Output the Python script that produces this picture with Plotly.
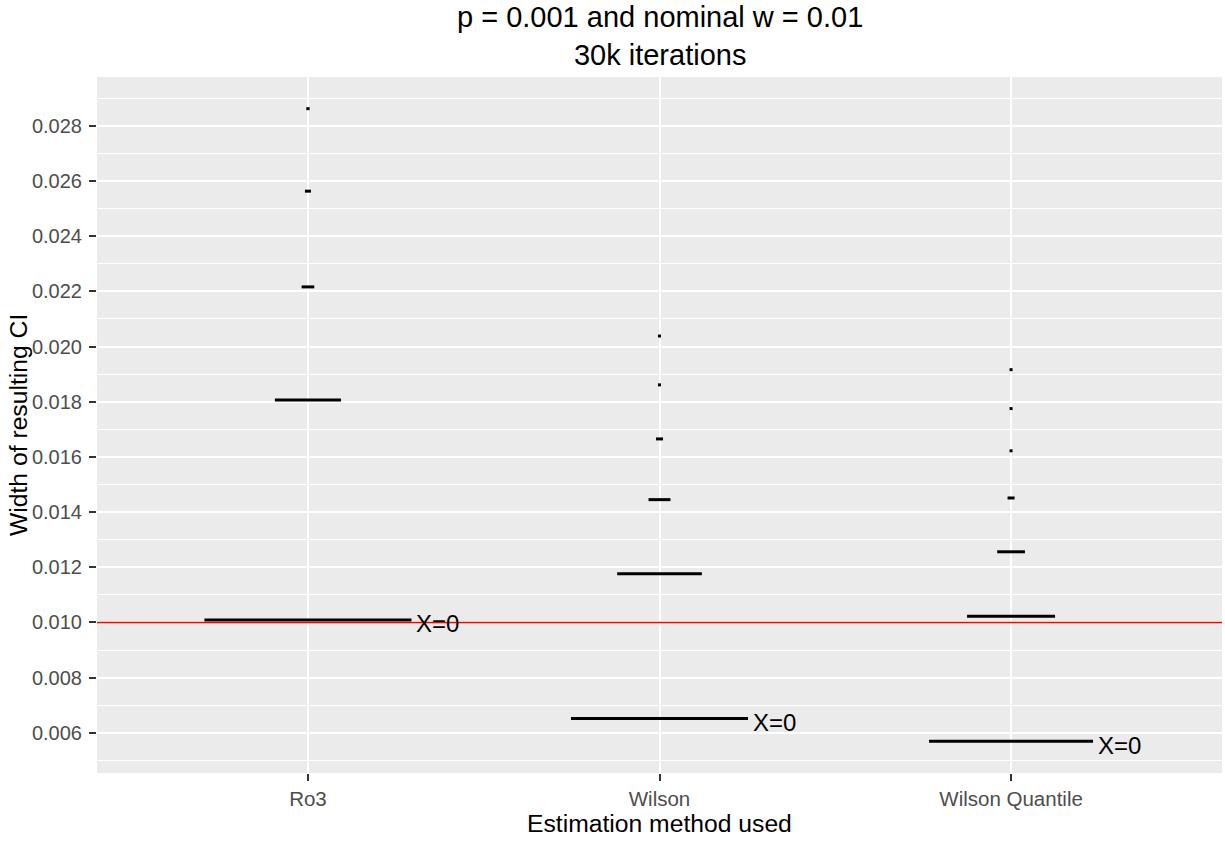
import plotly.graph_objects as go

# ---- data ----
categories = ["Ro3", "Wilson", "Wilson Quantile"]

# CI widths observed (y values) per method
ro3_values = [0.02862, 0.02563, 0.02216, 0.01806, 0.01009]
wilson_values = [0.02038, 0.01861, 0.01665, 0.01445, 0.01176, 0.00652]
wq_values = [0.01916, 0.01775, 0.01622, 0.01451, 0.01256, 0.01022, 0.00569]

# relative frequency (violin width, relative to the widest)
ro3_freq = [0.016, 0.029, 0.061, 0.319, 1.0]
wilson_freq = [0.0145, 0.0145, 0.034, 0.106, 0.409, 0.855]
wq_freq = [0.0145, 0.0145, 0.0145, 0.034, 0.134, 0.425, 0.792]

# value at which X=0 label is shown, per method
x0_values = [0.01009, 0.00652, 0.00569]
x0_freq = [1.0, 0.855, 0.792]
x0_label = "X=0"

nominal_w = 0.01
y_ticks = [0.006, 0.008, 0.010, 0.012, 0.014, 0.016, 0.018, 0.020,
           0.022, 0.024, 0.026, 0.028]

title_line1 = "p = 0.001 and nominal w = 0.01"
title_line2 = "30k iterations"
x_title = "Estimation method used"
y_title = "Width of resulting CI"

# ---- figure ----
MAX_W = 0.589  # width (category units) of the widest violin slice
FONT = "Liberation Sans, Arial, sans-serif"

fig = go.Figure()

series = [(ro3_values, ro3_freq), (wilson_values, wilson_freq), (wq_values, wq_freq)]

# nominal width reference line
fig.add_shape(type="line", xref="x domain", yref="y", x0=0, x1=1,
              y0=nominal_w, y1=nominal_w,
              line=dict(color="#FF0000", width=1.5), layer="above")

for i, (vals, freqs) in enumerate(series):
    cx = i + 1
    xs, ys = [], []
    for v, f in zip(vals, freqs):
        hw = f * MAX_W / 2
        xs += [cx - hw, cx + hw, None]
        ys += [v, v, None]
    fig.add_trace(go.Scatter(x=xs, y=ys, mode="lines",
                             line=dict(color="black", width=3),
                             hoverinfo="skip", showlegend=False))

for i, (v, f) in enumerate(zip(x0_values, x0_freq)):
    fig.add_annotation(x=i + 1 + f * MAX_W / 2, y=v, text=x0_label,
                       xref="x", yref="y", showarrow=False,
                       xanchor="left", yanchor="middle", xshift=3, yshift=-4,
                       font=dict(family=FONT, size=24, color="black"))

all_vals = ro3_values + wilson_values + wq_values
lo, hi = min(all_vals), max(all_vals)
span = hi - lo
y_range = [lo - 0.05 * span, hi + 0.05 * span]

fig.update_layout(
    width=1225, height=842,
    margin=dict(l=97, r=3, t=77, b=69),
    paper_bgcolor="white", plot_bgcolor="#EBEBEB",
    font=dict(family=FONT),
    showlegend=False,
    xaxis=dict(range=[0.4, 3.6], tickvals=[1, 2, 3], ticktext=categories,
               showgrid=True, gridcolor="white", gridwidth=1.8,
               zeroline=False, showline=False,
               ticks="outside", ticklen=7, tickwidth=1.5, tickcolor="#333333",
               tickfont=dict(family=FONT, size=20.5, color="#4D4D4D")),
    yaxis=dict(range=y_range, tickvals=y_ticks, tickformat=".3f",
               showgrid=True, gridcolor="white", gridwidth=1.8,
               zeroline=False, showline=False,
               ticks="outside", ticklen=7, tickwidth=1.5, tickcolor="#333333",
               ticklabelstandoff=3,
               tickfont=dict(family=FONT, size=20, color="#4D4D4D"),
               minor=dict(tick0=0.005, dtick=0.002, showgrid=True,
                          gridcolor="white", gridwidth=1, ticks="")),
)

# titles
fig.add_annotation(x=0.5, y=1, xref="paper", yref="paper",
                   text=title_line1 + "<br>" + title_line2,
                   showarrow=False, xanchor="center", yanchor="middle", yshift=41,
                   font=dict(family=FONT, size=29, color="black"))
fig.add_annotation(x=0.5, y=0, xref="paper", yref="paper", text=x_title,
                   showarrow=False, xanchor="center", yanchor="middle", yshift=-50,
                   font=dict(family=FONT, size=24.7, color="black"))
fig.add_annotation(x=0, y=0.5, xref="paper", yref="paper", text=y_title,
                   showarrow=False, xanchor="center", yanchor="middle", xshift=-79,
                   textangle=-90,
                   font=dict(family=FONT, size=24.7, color="black"))

fig.write_html("out.html", config={"displayModeBar": False},
               post_script="document.body.style.margin='0';document.body.style.padding='0';")
